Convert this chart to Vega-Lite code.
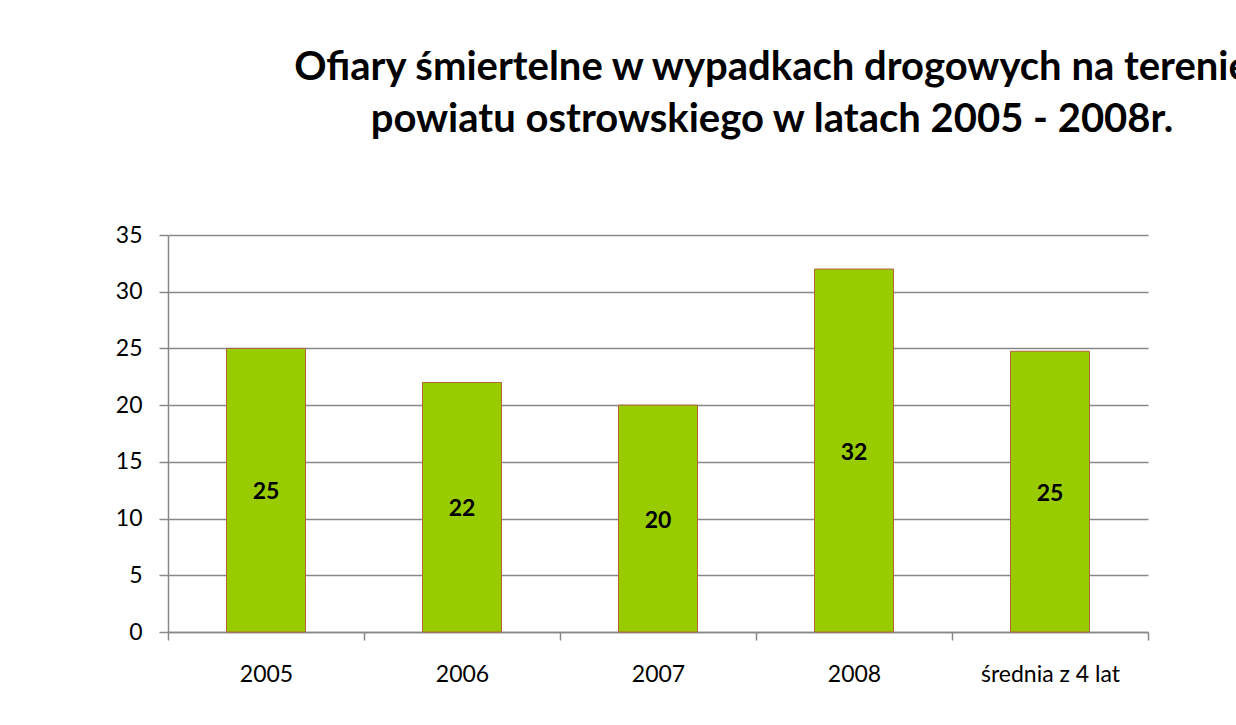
{
  "$schema": "https://vega.github.io/schema/vega-lite/v6.json",
  "autosize": "none",
  "width": 980,
  "height": 397,
  "padding": {"left": 168, "top": 235, "right": 88, "bottom": 93},
  "background": "white",
  "title": {
    "text": ["Ofiary śmiertelne w wypadkach drogowych na terenie", "powiatu ostrowskiego w latach 2005 - 2008r."],
    "font": "Lato",
    "fontSize": 40,
    "fontWeight": "bold",
    "color": "black",
    "anchor": "middle",
    "frame": "group",
    "dx": 114,
    "offset": 84,
    "lineHeight": 52
  },
  "data": {
    "values": [
      {"kategoria": "2005", "wartosc": 25},
      {"kategoria": "2006", "wartosc": 22},
      {"kategoria": "2007", "wartosc": 20},
      {"kategoria": "2008", "wartosc": 32},
      {"kategoria": "średnia z 4 lat", "wartosc": 24.75}
    ]
  },
  "encoding": {
    "x": {
      "field": "kategoria",
      "type": "nominal",
      "sort": null,
      "scale": {"paddingInner": 0, "paddingOuter": 0},
      "axis": {
        "title": null,
        "labelAngle": 0,
        "labelFont": "Lato",
        "labelFontSize": 23,
        "labelColor": "black",
        "labelPadding": 23,
        "domainColor": "#888888",
        "domainWidth": 1.5,
        "tickColor": "#888888",
        "tickWidth": 1.5,
        "tickSize": 8,
        "tickBand": "extent",
        "grid": false
      }
    }
  },
  "layer": [
    {
      "mark": {"type": "bar", "color": "#99CC00", "stroke": "#B0643C", "strokeWidth": 1, "width": {"band": 0.403}},
      "encoding": {
        "y": {
          "field": "wartosc",
          "type": "quantitative",
          "scale": {"domain": [0, 35], "nice": false},
          "axis": {
            "title": null,
            "values": [0, 5, 10, 15, 20, 25, 30, 35],
            "labelFont": "Lato",
            "labelFontSize": 23,
            "labelColor": "black",
            "labelPadding": 17,
            "domainColor": "#888888",
            "domainWidth": 1.5,
            "tickColor": "#888888",
            "tickWidth": 1.5,
            "tickSize": 9,
            "gridColor": "#888888",
            "gridWidth": 1.5
          }
        }
      }
    },
    {
      "transform": [{"calculate": "datum.wartosc / 2", "as": "srodek"}],
      "mark": {"type": "text", "font": "Lato", "fontSize": 23, "fontWeight": "bold", "color": "black", "dy": 2},
      "encoding": {
        "y": {"field": "srodek", "type": "quantitative"},
        "text": {"field": "wartosc", "type": "quantitative", "format": ".0f"}
      }
    }
  ],
  "config": {"view": {"stroke": null}}
}
